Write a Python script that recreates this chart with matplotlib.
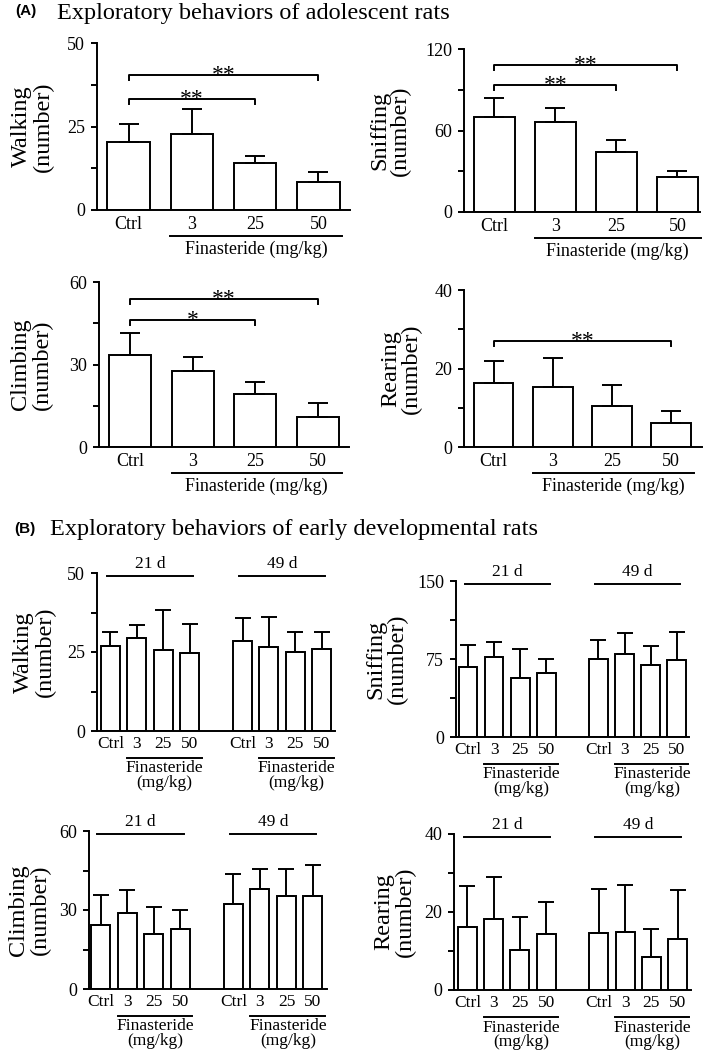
import matplotlib
matplotlib.use('Agg')
import matplotlib.pyplot as plt
from matplotlib.transforms import blended_transform_factory, ScaledTranslation
from matplotlib.ticker import MultipleLocator

plt.rcParams['font.family'] = ['Liberation Serif', 'DejaVu Serif']

# ---------------- data ----------------
dose_labels = ['Ctrl', '3', '25', '50']
age_groups = ['21 d', '49 d']
x_title = 'Finasteride (mg/kg)'

# Panel A (adolescent rats): mean and upper error
a_walk_mean = [20.4, 22.8, 14.0, 8.4]
a_walk_err = [5.3, 7.4, 2.2, 3.0]
a_sniff_mean = [69.9, 66.3, 44.2, 25.8]
a_sniff_err = [14.0, 10.3, 8.8, 4.4]
a_climb_mean = [33.5, 27.6, 19.3, 10.9]
a_climb_err = [8.0, 5.1, 4.3, 5.1]
a_rear_mean = [16.3, 15.3, 10.4, 6.1]
a_rear_err = [5.6, 7.4, 5.4, 3.1]

# significance brackets: (from, to, label, height)
a_walk_sig = [(0, 3, '**', 40.4), (0, 2, '**', 33.2)]
a_sniff_sig = [(0, 3, '**', 108.2), (0, 2, '**', 93.5)]
a_climb_sig = [(0, 3, '**', 53.8), (0, 2, '*', 46.2)]
a_rear_sig = [(0, 3, '**', 27.0)]

# Panel B (early developmental rats): 21 d then 49 d
b_walk_mean = [26.9, 29.4, 25.6, 24.7, 28.5, 26.6, 25.0, 25.9]
b_walk_err = [4.4, 4.1, 12.7, 9.2, 7.3, 9.5, 6.3, 5.4]
b_sniff_mean = [67.3, 76.9, 56.7, 61.5, 75.0, 79.8, 69.2, 74.0]
b_sniff_err = [21.2, 14.4, 27.9, 13.5, 18.3, 20.2, 18.3, 27.0]
b_climb_mean = [24.3, 28.9, 20.9, 22.8, 32.3, 38.0, 35.3, 35.3]
b_climb_err = [11.4, 8.7, 10.2, 7.2, 11.4, 7.6, 10.3, 11.8]
b_rear_mean = [16.2, 18.2, 10.3, 14.4, 14.6, 14.9, 8.5, 13.1]
b_rear_err = [10.5, 10.8, 8.4, 8.2, 11.3, 12.0, 7.1, 12.5]

# ---------------- layout ----------------
W, H = 709, 1051
fig = plt.figure(figsize=(W / 100, H / 100), dpi=100)
LW = 1.4
TICK_FS = 13
LAB_FS = 17.5


def make_ax(x0, x1, y0, y1):
    return fig.add_axes([x0 / W, 1 - y1 / H, (x1 - x0) / W, (y1 - y0) / H])


def below(ax, px):
    return blended_transform_factory(ax.transData, ax.transAxes) + \
        ScaledTranslation(0, -px / 100, fig.dpi_scale_trans)


def above(ax, px):
    return blended_transform_factory(ax.transData, ax.transAxes) + \
        ScaledTranslation(0, px / 100, fig.dpi_scale_trans)


def style(ax, ymax, step, xlim, label, label_x_px, ax_x0, ax_x1):
    ax.set_ylim(0, ymax)
    ax.set_xlim(*xlim)
    ax.yaxis.set_major_locator(MultipleLocator(step))
    ax.yaxis.set_minor_locator(MultipleLocator(step / 2))
    for s in ['top', 'right']:
        ax.spines[s].set_visible(False)
    for s in ['left', 'bottom']:
        ax.spines[s].set_linewidth(LW)
    ax.tick_params(axis='y', which='both', direction='out', length=4.5,
                   width=LW, labelsize=TICK_FS, pad=4)
    ax.tick_params(axis='x', length=0, labelsize=TICK_FS, pad=4.5)
    fx = (label_x_px - ax_x0) / (ax_x1 - ax_x0)
    ax.text(fx, 0.5, label, transform=ax.transAxes, rotation=90,
            ha='center', va='center', fontsize=LAB_FS, linespacing=1.0,
            multialignment='center')


def bars(ax, pos, mean, err, width, cap):
    ax.bar(pos, mean, width=width, color='white', edgecolor='black',
           linewidth=LW, zorder=2)
    ax.errorbar(pos, mean, yerr=[[0] * len(err), err], fmt='none',
                ecolor='black', elinewidth=LW, capsize=cap, capthick=LW,
                zorder=3)


def sig(ax, items, tick):
    for a, b, lab, h in items:
        ax.plot([a, a, b, b], [h - tick, h, h, h - tick], color='black',
                lw=LW, clip_on=False, zorder=4)
        ax.annotate(lab, xy=((a + b) / 2, h), xytext=(0, -4.5),
                    textcoords='offset points', ha='center', va='baseline',
                    fontsize=17)


# ---- Panel A ----
panelA = [
    ((97, 350, 43, 210), a_walk_mean, a_walk_err, a_walk_sig, 50, 25,
     (-0.5, 3.5), 'Walking\n(number)', 32.5),
    ((464, 700, 49, 212), a_sniff_mean, a_sniff_err, a_sniff_sig, 120, 60,
     (-0.5, 3.37), 'Sniffing\n(number)', 390),
    ((99, 349, 282, 447), a_climb_mean, a_climb_err, a_climb_sig, 60, 30,
     (-0.5, 3.5), 'Climbing\n(number)', 31.5),
    ((464, 702, 290, 447), a_rear_mean, a_rear_err, a_rear_sig, 40, 20,
     (-0.5, 3.52), 'Rearing\n(number)', 401),
]
posA = list(range(len(dose_labels)))
for rect, mean, err, sg, ymax, step, xl, lab, lx in panelA:
    ax = make_ax(*rect)
    bars(ax, posA, mean, err, 0.67, 7.5)
    style(ax, ymax, step, xl, lab, lx, rect[0], rect[1])
    ax.set_xticks(posA)
    ax.set_xticklabels(dose_labels)
    sig(ax, sg, ymax * 0.03)
    ax.plot([0.66, 3.38], [0, 0], transform=below(ax, 26), color='black',
            lw=LW, clip_on=False)
    ax.text(2.02, 0, x_title, transform=below(ax, 39), ha='center',
            va='center', fontsize=TICK_FS)

# ---- Panel B ----
panelB = [
    ((97, 335, 573, 731), b_walk_mean, b_walk_err, 50, 25,
     (-0.51, 8.5), 'Walking\n(number)', 34.5),
    ((456, 689, 581, 737), b_sniff_mean, b_sniff_err, 150, 75,
     (-0.46, 8.47), 'Sniffing\n(number)', 386.5),
    ((89, 327, 831, 989), b_climb_mean, b_climb_err, 60, 30,
     (-0.45, 8.53), 'Climbing\n(number)', 29.5),
    ((454, 691, 834, 990), b_rear_mean, b_rear_err, 40, 20,
     (-0.51, 8.51), 'Rearing\n(number)', 394.5),
]
posB = [0, 1, 2, 3, 5, 6, 7, 8]
for rect, mean, err, ymax, step, xl, lab, lx in panelB:
    ax = make_ax(*rect)
    bars(ax, posB, mean, err, 0.72, 5.5)
    style(ax, ymax, step, xl, lab, lx, rect[0], rect[1])
    ax.set_xticks(posB)
    ax.set_xticklabels(dose_labels * 2, fontsize=12.5)
    ax.tick_params(axis='x', pad=3.5)
    for g, off in enumerate([0, 5]):
        ax.plot([off - 0.13, off + 3.13], [1, 1], transform=above(ax, -3),
                color='black', lw=LW, clip_on=False)
        ax.text(off + 1.5, 1, age_groups[g], transform=above(ax, 9),
                ha='center', va='center', fontsize=12.5)
        ax.plot([off + 0.63, off + 3.45], [0, 0], transform=below(ax, 27),
                color='black', lw=LW, clip_on=False)
        ax.text(off + 2.05, 0, 'Finasteride', transform=below(ax, 37.5),
                ha='center', va='center', fontsize=12.5)
        ax.text(off + 2.05, 0, '(mg/kg)', transform=below(ax, 52),
                ha='center', va='center', fontsize=12.5)

# ---- titles ----
fig.text(15 / W, 1 - 11 / H, '(A)', family='Liberation Sans',
         fontweight='bold', fontsize=11, ha='left', va='center')
fig.text(57 / W, 1 - 18.5 / H, 'Exploratory behaviors of adolescent rats',
         fontsize=17.5, ha='left', va='baseline')
fig.text(14 / W, 1 - 529 / H, '(B)', family='Liberation Sans',
         fontweight='bold', fontsize=11, ha='left', va='center')
fig.text(50 / W, 1 - 535.5 / H,
         'Exploratory behaviors of early developmental rats',
         fontsize=17.5, ha='left', va='baseline')

fig.savefig('out.png', dpi=100, facecolor='white')
